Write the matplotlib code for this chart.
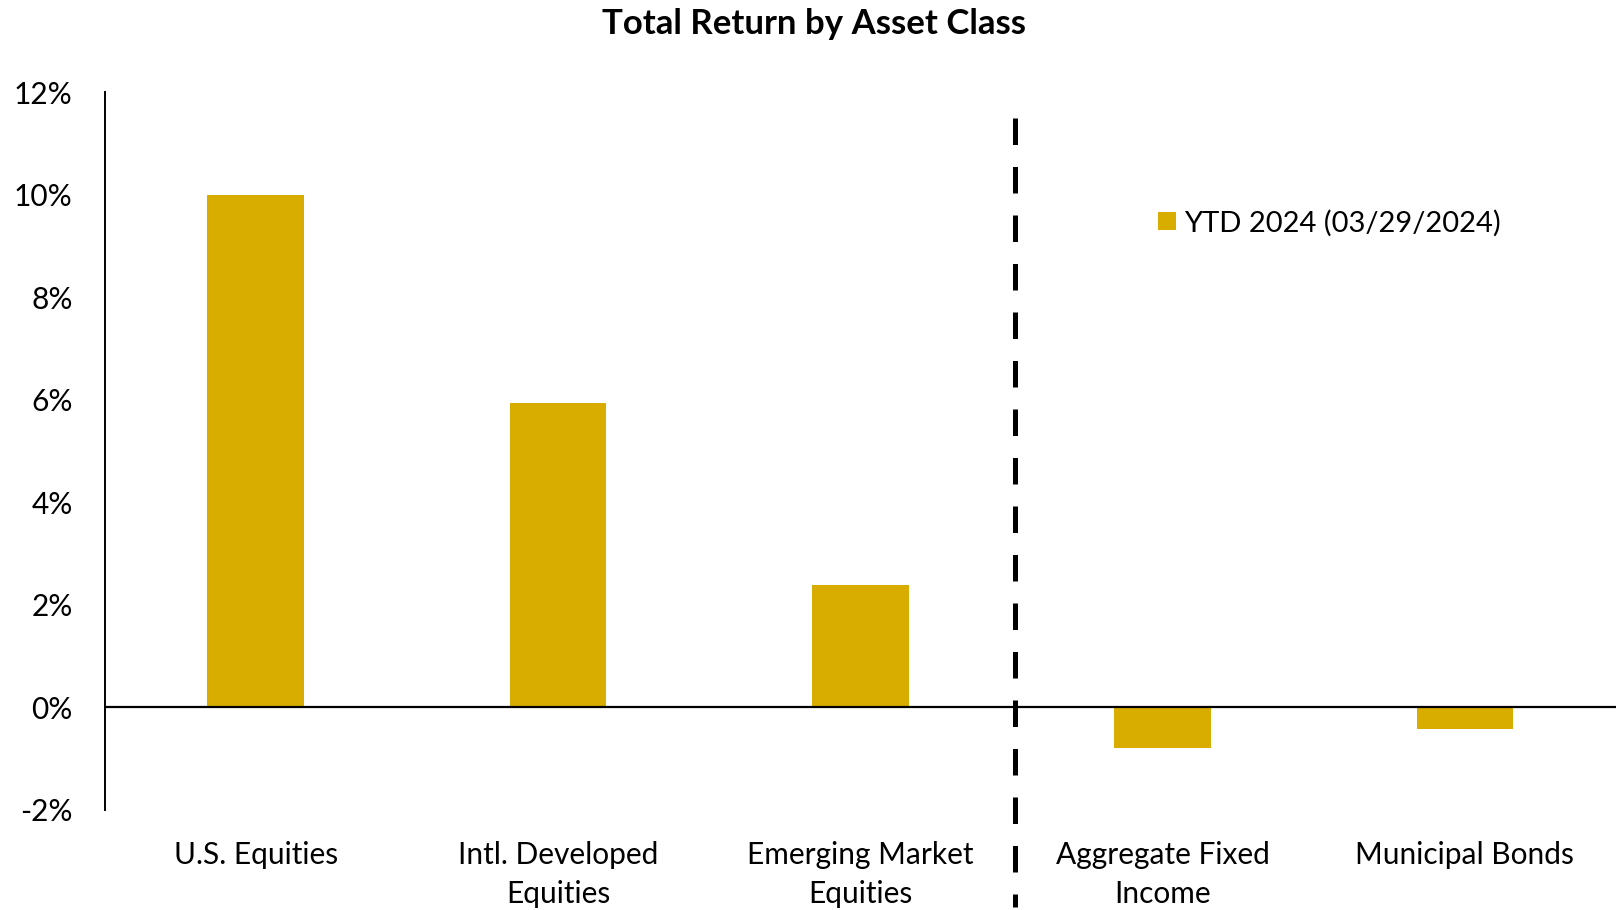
"""Total return by asset class, YTD 2024."""

import matplotlib.pyplot as plt
import numpy as np
from matplotlib.lines import Line2D

GOLD = "#D9AC00"
FONT = "Lato"

categories = ["U.S. Equities", "Intl. Developed\nEquities", "Emerging Market\nEquities",
              "Aggregate Fixed\nIncome", "Municipal Bonds"]
ytd_2024 = [10.0, 5.95, 2.39, -0.80, -0.42]
n_equity = 3
series_label = "YTD 2024 (03/29/2024)"
y_ticks = [-2, 0, 2, 4, 6, 8, 10, 12]

plt.rcParams["font.family"] = [FONT, "DejaVu Sans"]

fig = plt.figure(figsize=(16.16, 9.1), dpi=100)
ax = fig.add_axes([0.0648, 0.1099, 0.9352, 0.7885])

x = np.arange(len(categories))
bars = ax.bar(x, ytd_2024, width=0.32, color=GOLD, label=series_label, zorder=2)
ax.axhline(0, color="black", linewidth=1.6, zorder=3)

# divider between equities and fixed income, runs past the axes
ax.add_line(Line2D([n_equity - 0.49] * 2, [0.965, -0.135], color="black", linewidth=3.6,
                   dashes=(5.3, 4.4), transform=ax.get_xaxis_transform(), clip_on=False,
                   zorder=3))

ax.set_xlim(-0.5, len(categories) - 0.5)
ax.set_ylim(y_ticks[0], y_ticks[-1])
ax.set_yticks(y_ticks)
ax.set_yticklabels([f"{t}%" for t in y_ticks])
ax.set_xticks(x)
ax.set_xticklabels(categories, linespacing=1.5)
ax.tick_params(axis="y", length=0, pad=23, labelsize=21.5)
ax.tick_params(axis="x", length=0, pad=22, labelsize=21.5)

for side in ["top", "right", "bottom"]:
    ax.spines[side].set_visible(False)
ax.spines["left"].set_linewidth(1.4)

ax.set_title("Total Return by Asset Class", fontsize=25, fontweight="bold",
             x=0.469, y=1.0, pad=42)

fig.legend(handles=[bars], labels=[series_label], loc="center left",
           bbox_to_anchor=(1158 / 1616, 1 - 223 / 910), frameon=False, fontsize=21,
           handlelength=0.6, handleheight=0.6, handletextpad=0.3, borderpad=0,
           borderaxespad=0)

fig.savefig("out.png", dpi=100)
